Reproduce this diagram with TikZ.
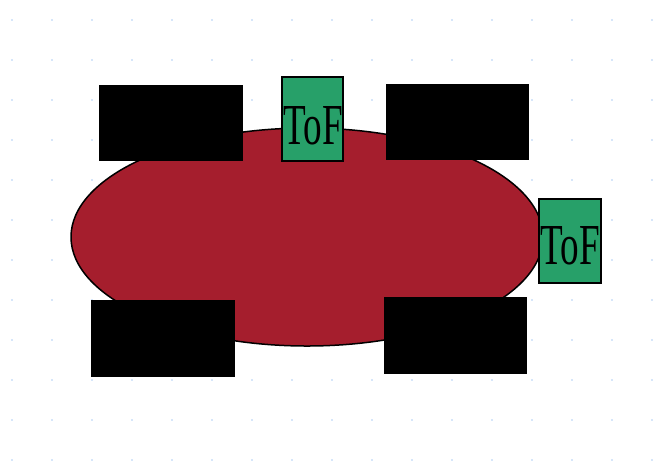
\documentclass[tikz,border=0pt]{standalone}
\usepackage{fontspec}
\setmainfont{Liberation Serif}
\usetikzlibrary{shapes.geometric}
\definecolor{dotblue}{HTML}{D6E6FA}
\definecolor{crim}{HTML}{A51E2D}
\definecolor{tofg}{HTML}{27A069}
\tikzset{
  blk/.style={fill=black,draw=none},
  tofbox/.style={fill=tofg,draw=black,line width=1.8pt},
  toftext/.style={font=\fontsize{58}{58}\selectfont,xscale=0.64,inner sep=0pt},
}
\begin{document}
\begin{tikzpicture}[x=1pt,y=-1pt]
\useasboundingbox (0,0) rectangle (655,472);
\fill[white] (0,0) rectangle (655,472);
\foreach \i in {0,...,16}{\foreach \j in {0,...,11}{
  \fill[dotblue] ({12+40*\i-1},{20+40*\j-1}) rectangle ++(2,2);}}
\node[ellipse,draw=black,line width=1.5pt,fill=crim,minimum width=472pt,minimum height=218pt,inner sep=0pt] (body) at (307,237) {};
\path[blk] (99,85) rectangle (243,161) coordinate (b1);
\path[blk] (386,84) rectangle (529,160) coordinate (b2);
\path[blk] (91,300) rectangle (235,377) coordinate (b3);
\path[blk] (384,297) rectangle (527,374) coordinate (b4);
\draw[tofbox] (282,77) rectangle (343,161);
\node[toftext] (t1) at (313,126) {ToF};
\draw[tofbox] (539,199) rectangle (601,283);
\node[toftext] (t2) at (570,246) {ToF};
\end{tikzpicture}
\end{document}
